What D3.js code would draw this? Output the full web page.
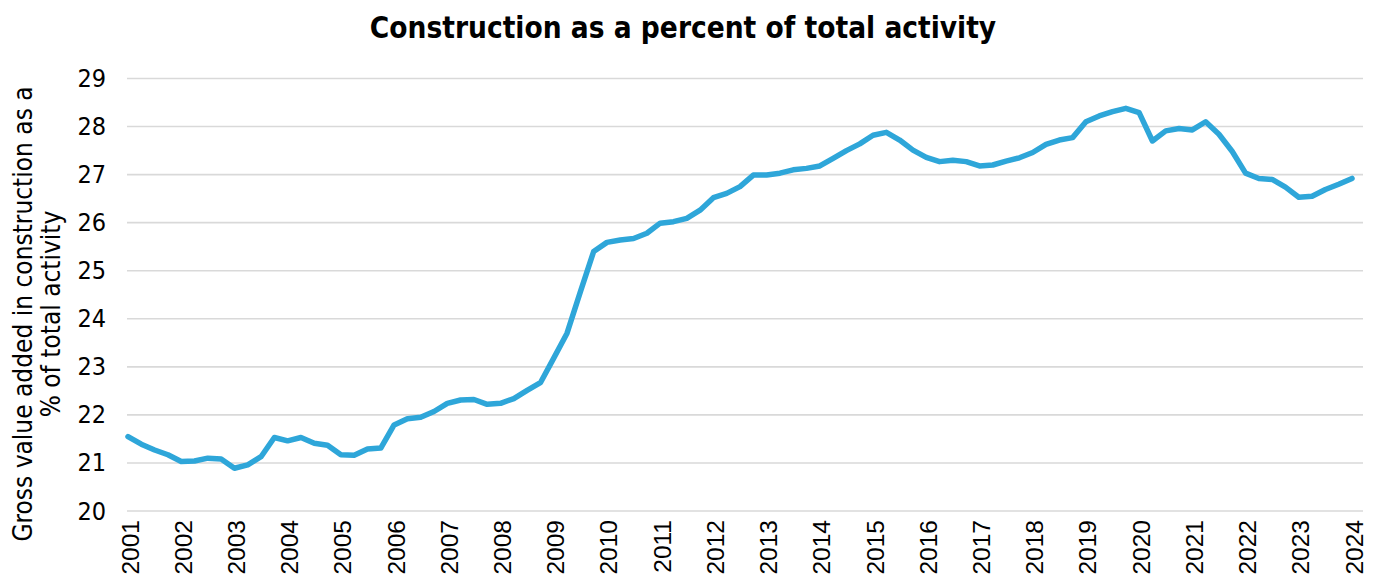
<!DOCTYPE html>
<html>
<head>
<meta charset="utf-8">
<script src="https://cdn.jsdelivr.net/npm/d3@7"></script>
<style>
  html, body { margin: 0; padding: 0; background: #fff; }
  svg { display: block; }
</style>
</head>
<body>
<svg id="chart" width="1385" height="584"></svg>
<script>
// Quarterly data, 2001 Q1 .. 2024 Q1
const startYear = 2001;
const values = [
  21.55, 21.39, 21.27, 21.17,
  21.03, 21.04, 21.10, 21.08,
  20.89, 20.96, 21.13, 21.53,
  21.46, 21.53, 21.41, 21.37,
  21.17, 21.16, 21.29, 21.31,
  21.79, 21.92, 21.95, 22.07,
  22.24, 22.31, 22.32, 22.22,
  22.24, 22.34, 22.51, 22.67,
  23.18, 23.70, 24.56, 25.40,
  25.59, 25.64, 25.67, 25.78,
  25.99, 26.02, 26.09, 26.26,
  26.52, 26.61, 26.75, 26.99,
  26.99, 27.03, 27.10, 27.13,
  27.18, 27.34, 27.50, 27.64,
  27.82, 27.88, 27.72, 27.51,
  27.36, 27.27, 27.30, 27.27,
  27.18, 27.20, 27.28, 27.35,
  27.46, 27.63, 27.72, 27.77,
  28.10, 28.22, 28.31, 28.38,
  28.29, 27.70, 27.91, 27.96,
  27.93, 28.10, 27.84, 27.48,
  27.03, 26.92, 26.90, 26.74,
  26.53, 26.55, 26.69, 26.80,
  26.92
];
const yearTicks = [2001,2002,2003,2004,2005,2006,2007,2008,2009,2010,2011,2012,
                   2013,2014,2015,2016,2017,2018,2019,2020,2021,2022,2023,2024];
const yTicks = [20,21,22,23,24,25,26,27,28,29];

const svg = d3.select("#chart");
const x = d3.scaleLinear().domain([2001, 2024]).range([128, 1352]);
const y = d3.scaleLinear().domain([20, 29]).range([511, 78.5]);
const gridLeft = 127, gridRight = 1363;
const condensed = "'DejaVu Sans Condensed', 'Open Sans', sans-serif";

// gridlines
svg.append("g").selectAll("line").data(yTicks).join("line")
  .attr("x1", gridLeft).attr("x2", gridRight)
  .attr("y1", d => y(d)).attr("y2", d => y(d))
  .attr("stroke", "#d9d9d9").attr("stroke-width", 1.6);

// y axis labels
const yAxis = d3.axisLeft(y).tickValues(yTicks).tickSize(0).tickPadding(0).tickFormat(d3.format("d"));
const gy = svg.append("g").attr("transform", `translate(106,0)`).call(yAxis);
gy.select(".domain").remove();
gy.selectAll("text").attr("font-family", condensed)
  .attr("font-size", 25).attr("fill", "#000");

// x axis labels
const xAxis = d3.axisBottom(x).tickValues(yearTicks).tickSize(0).tickPadding(0).tickFormat(d3.format("d"));
const gx = svg.append("g").call(xAxis);
gx.select(".domain").remove();
gx.selectAll("text")
  .attr("font-family", "'Liberation Sans', Arial, sans-serif")
  .attr("font-size", 24.5).attr("fill", "#000")
  .attr("text-anchor", "end")
  .attr("transform", "translate(10,520) rotate(-90)")
  .attr("x", 0).attr("y", 0).attr("dy", 0);

// line
const line = d3.line()
  .x((d, i) => x(startYear + i / 4))
  .y(d => y(d));
svg.append("path").datum(values)
  .attr("d", line)
  .attr("fill", "none")
  .attr("stroke", "#2ea6d9")
  .attr("stroke-width", 5.5)
  .attr("stroke-linejoin", "round")
  .attr("stroke-linecap", "round");

// title
svg.append("text")
  .attr("x", 683).attr("y", 38)
  .attr("text-anchor", "middle")
  .attr("font-family", condensed)
  .attr("font-weight", "bold")
  .attr("font-size", 29.5)
  .attr("fill", "#000")
  .text("Construction as a percent of total activity");

// y axis title
const yt = svg.append("text")
  .attr("transform", "translate(0,314) rotate(-90)")
  .attr("text-anchor", "middle")
  .attr("font-family", condensed)
  .attr("font-size", 26)
  .attr("fill", "#000");
yt.append("tspan").attr("x", 0).attr("y", 32).text("Gross value added in construction as a");
yt.append("tspan").attr("x", 0).attr("y", 60).text("% of total activity");
</script>
</body>
</html>
